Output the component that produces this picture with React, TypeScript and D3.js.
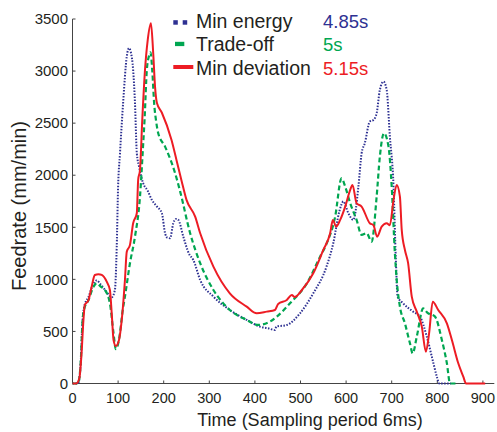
import React from 'react';
import { scaleLinear, line, curveMonotoneX } from 'd3';

// [time, feedrate]
const minEnergy: [number, number][] = [
  [0, 0], [12, 0], [18, 200], [22, 600], [27, 760], [35, 830], [45, 950], [53, 990], [62, 950],
  [71, 900], [80, 850], [86, 828], [93, 898], [97, 1314], [100, 1890], [104, 2200], [111, 2695],
  [119, 3140], [124, 3220], [128, 3180], [133, 3010], [137, 2695], [141, 2214], [146, 2083],
  [155, 1923], [165, 1850], [174, 1763], [185, 1700], [196, 1635], [203, 1443], [208, 1400],
  [214, 1395], [221, 1539], [227, 1580], [232, 1571], [243, 1410], [255, 1250], [265, 1186],
  [280, 994], [309, 834], [345, 706], [382, 610], [411, 546], [429, 530], [444, 514], [447, 546],
  [470, 562], [499, 674], [528, 866], [557, 1122], [572, 1350], [585, 1650], [594, 1747],
  [605, 1635], [616, 1571], [627, 1891], [634, 2211], [641, 2307], [652, 2515], [660, 2531],
  [667, 2595], [674, 2819], [682, 2899], [689, 2819], [696, 2371], [704, 1891], [709, 1200],
  [713, 834], [725, 770], [747, 690], [762, 642], [777, 450], [788, 258], [799, 66], [804, 0], [830, 0],
];

const tradeOff: [number, number][] = [
  [0, 0], [12, 0], [18, 200], [22, 600], [26, 720], [35, 800], [45, 920], [53, 962], [62, 930],
  [71, 898], [82, 770], [90, 482], [95, 330], [100, 380], [103, 450], [110, 700], [115, 834],
  [126, 1155], [137, 1410], [148, 1795], [155, 2300], [158, 2531], [163, 3011], [168, 3150],
  [171, 3180], [175, 3000], [179, 2695], [184, 2500], [188, 2403], [203, 2275], [225, 2019],
  [236, 1845], [258, 1443], [280, 1155], [309, 898], [345, 706], [382, 610], [407, 562],
  [433, 594], [448, 642], [477, 770], [514, 962], [543, 1218], [557, 1340], [576, 1602],
  [590, 1971], [598, 1891], [609, 1731], [623, 1571], [634, 1427], [645, 1443], [656, 1362],
  [667, 1795], [674, 2179], [683, 2403], [693, 2275], [700, 1891], [707, 1250], [711, 994],
  [718, 738], [729, 578], [740, 386], [746, 290], [755, 450], [769, 722], [778, 680], [795, 642],
  [810, 418], [821, 194], [828, 0], [845, 0],
];

const minDeviation: [number, number][] = [
  [0, 0], [8, 0], [15, 50], [20, 300], [24, 610], [27, 754], [35, 800], [42, 930], [49, 1042],
  [57, 1050], [64, 1042], [75, 978], [82, 898], [86, 674], [90, 418], [95, 360], [102, 418],
  [108, 610], [115, 994], [119, 1266], [126, 1330], [133, 1539], [141, 1635], [144, 1955],
  [148, 2050], [153, 2531], [159, 3011], [165, 3300], [172, 3460], [177, 3172], [181, 2850],
  [185, 2695], [196, 2600], [217, 2340], [228, 2147], [239, 1950], [250, 1763], [269, 1602],
  [280, 1443], [309, 1122], [345, 866], [382, 738], [404, 674], [426, 690], [444, 706],
  [451, 764], [470, 802], [481, 850], [487, 830], [503, 898], [528, 1059], [550, 1282],
  [565, 1443], [571, 1571], [578, 1506], [587, 1571], [598, 1699], [609, 1859], [614, 1907],
  [623, 1731], [634, 1699], [652, 1539], [660, 1520], [668, 1410], [678, 1506], [689, 1539],
  [696, 1520], [704, 1763], [711, 1907], [718, 1795], [722, 1475], [729, 1282], [736, 1155],
  [744, 834], [755, 690], [766, 546], [775, 306], [782, 482], [790, 786], [802, 706],
  [821, 578], [832, 418], [846, 194], [857, 66], [863, 0], [905, 0],
];

const seriesNames = ['Min energy', 'Trade-off', 'Min deviation'];
const seriesTimes = ['4.85s', '5s', '5.15s'];
const xTicks = [0, 100, 200, 300, 400, 500, 600, 700, 800, 900];
const yTicks = [0, 500, 1000, 1500, 2000, 2500, 3000, 3500];

const BLUE = '#2e3192';
const GREEN = '#00a651';
const RED = '#ed1c24';
const INK = '#231f20';
const FONT = 'Arial, "Liberation Sans", Helvetica, sans-serif';

export default function App() {
  const x = scaleLinear().domain([0, 925]).range([72.5, 494.3]);
  const y = scaleLinear().domain([0, 3500]).range([383.5, 19]);

  const path = line<[number, number]>()
    .x(d => x(d[0]))
    .y(d => y(d[1]))
    .curve(curveMonotoneX);

  const series = [
    { data: minEnergy, color: BLUE, width: 2, dash: '1.5 1.5' },
    { data: tradeOff, color: GREEN, width: 2.2, dash: '5 3' },
    { data: minDeviation, color: RED, width: 2, dash: undefined },
  ];

  const legendY = [27.5, 51, 74.5];

  return (
    <svg width={497} height={432} style={{ position: 'absolute', left: 0, top: 0, background: '#fff' }}
      fontFamily={FONT}>
      {/* axes */}
      <line x1={x(0)} x2={x(925)} y1={y(0)} y2={y(0)} stroke="#444" strokeWidth={1} />
      <line x1={x(0)} x2={x(0)} y1={y(0)} y2={y(3500)} stroke="#444" strokeWidth={1} />
      {xTicks.map(t => (
        <g key={'x' + t}>
          <line x1={x(t)} x2={x(t)} y1={y(0)} y2={y(0) - 3} stroke="#444" />
          <text x={x(t)} y={403} textAnchor="middle" fontSize={14.5} fill={INK}>{t}</text>
        </g>
      ))}
      {yTicks.map(t => (
        <g key={'y' + t}>
          <line x1={x(0)} x2={x(0) + 3} y1={y(t)} y2={y(t)} stroke="#444" />
          <text x={68} y={y(t)} dy="0.35em" textAnchor="end" fontSize={15} fill={INK}>{t}</text>
        </g>
      ))}
      <text x={310} y={426} textAnchor="middle" fontSize={18} fill={INK}>Time (Sampling period 6ms)</text>
      <text transform="translate(26,206) rotate(-90)" textAnchor="middle" fontSize={20} fill={INK}>Feedrate (mm/min)</text>

      {/* curves */}
      {series.map((s, i) => (
        <path key={i} d={path(s.data) || ''} fill="none" stroke={s.color} strokeWidth={s.width}
          strokeDasharray={s.dash} strokeLinejoin="round" />
      ))}

      {/* legend */}
      <rect x={173.3} y={20.2} width={4.5} height={4.5} fill={BLUE} />
      <rect x={182.7} y={20.2} width={4.5} height={4.5} fill={BLUE} />
      <rect x={175} y={41.8} width={9.3} height={4.3} fill={GREEN} />
      <rect x={173.3} y={65} width={20} height={4} fill={RED} />
      {seriesNames.map((n, i) => (
        <text key={n} x={196} y={legendY[i]} fontSize={19.5} fill={INK}>{n}</text>
      ))}
      {seriesTimes.map((t, i) => (
        <text key={t} x={323} y={legendY[i]} fontSize={18.5} fill={[BLUE, GREEN, RED][i]}>{t}</text>
      ))}
    </svg>
  );
}
